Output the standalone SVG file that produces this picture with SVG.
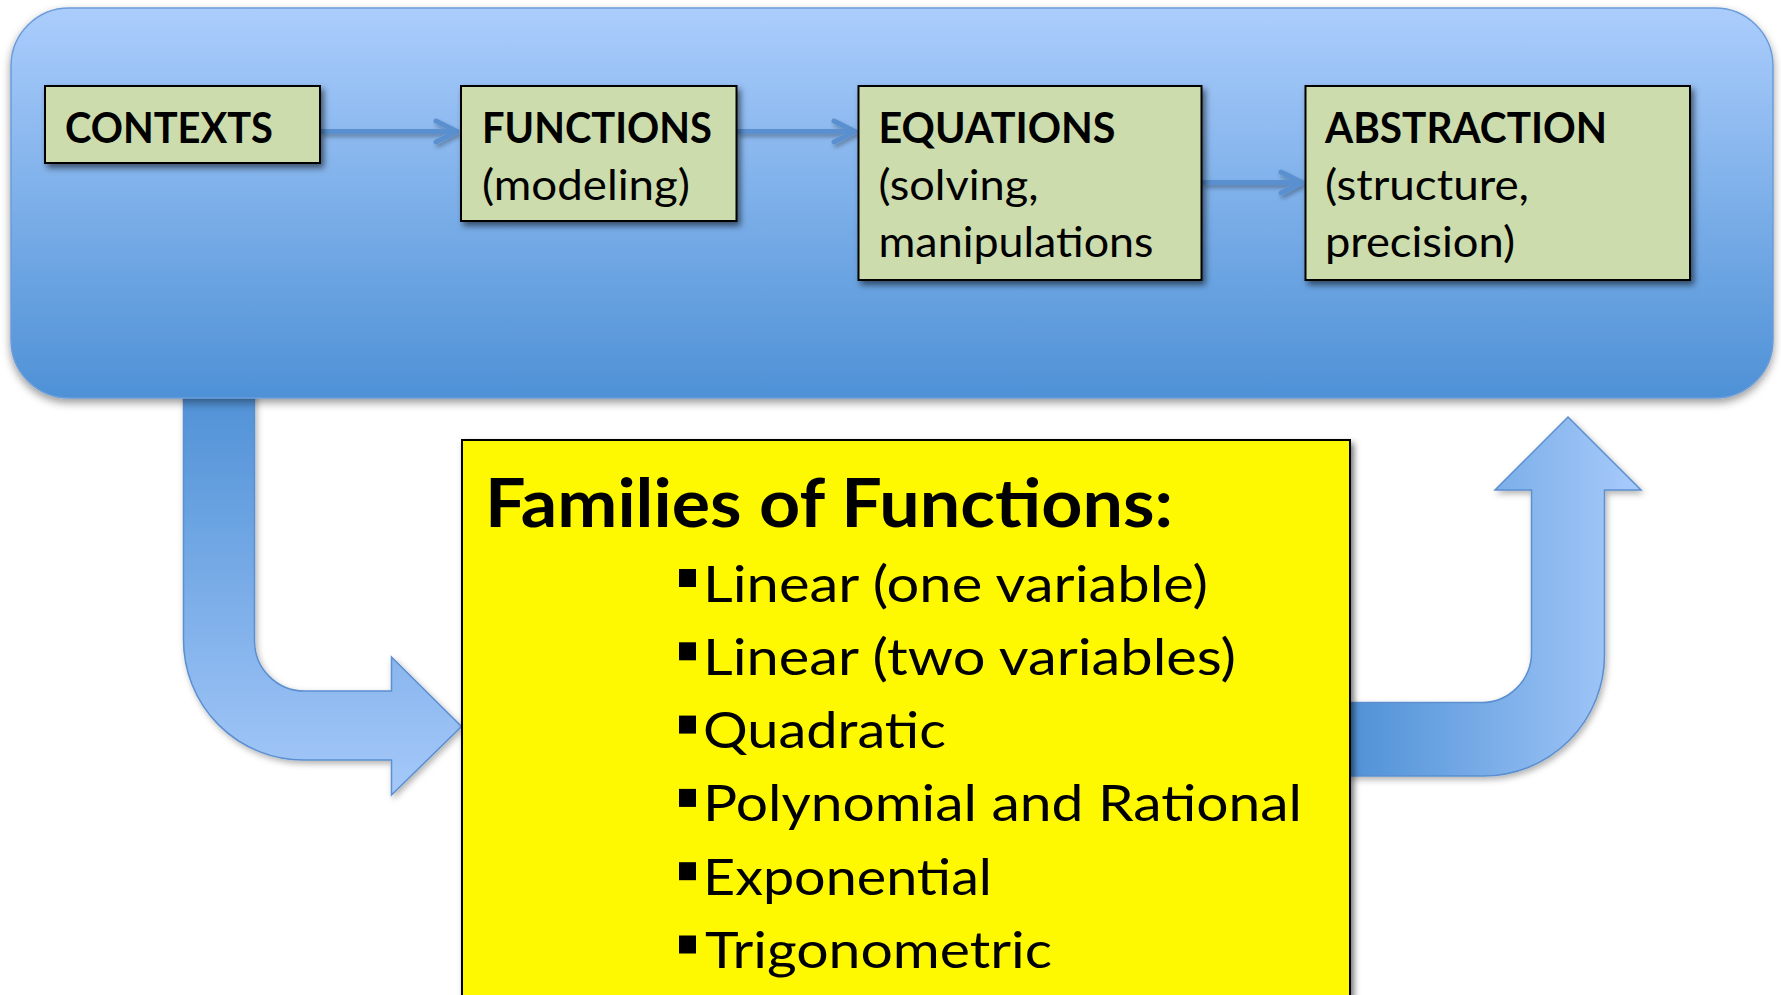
<svg xmlns="http://www.w3.org/2000/svg" width="1781" height="995" viewBox="0 0 1781 995">
<style>
  .t { font-family: Lato, "Open Sans", "Liberation Sans", sans-serif; fill: #000; }
  .b { font-weight: 700; }
  .box { fill: #cddcac; stroke: #000; stroke-width: 2; filter: url(#shBox); }
  .arr { stroke: #5b8fd0; stroke-width: 1.5; filter: url(#shArr); }
  .conn { stroke: #5a90cf; stroke-width: 5; fill: none; marker-end: url(#chev); }
  .bt { font-size: 42.5px; }
  .li { font-size: 51px; }
</style>
<defs>
  <linearGradient id="gBig" x1="0" y1="0" x2="0" y2="1">
    <stop offset="0" stop-color="#abcdfc"/>
    <stop offset="1" stop-color="#4e91d6"/>
  </linearGradient>
  <linearGradient id="gLeft" x1="0" y1="0" x2="0" y2="1">
    <stop offset="0" stop-color="#4f91d6"/>
    <stop offset="1" stop-color="#a6c9fa"/>
  </linearGradient>
  <linearGradient id="gRight" x1="0" y1="0" x2="1" y2="0">
    <stop offset="0" stop-color="#4f91d6"/>
    <stop offset="1" stop-color="#a8cbfb"/>
  </linearGradient>
  <filter id="shBig" x="-5%" y="-10%" width="110%" height="125%">
    <feDropShadow dx="0" dy="4" stdDeviation="4" flood-color="#000" flood-opacity="0.4"/>
  </filter>
  <filter id="shBox" x="-10%" y="-10%" width="125%" height="130%">
    <feDropShadow dx="3" dy="4" stdDeviation="3" flood-color="#000" flood-opacity="0.55"/>
  </filter>
  <filter id="shArr" x="-10%" y="-10%" width="125%" height="125%">
    <feDropShadow dx="2" dy="3" stdDeviation="3" flood-color="#000" flood-opacity="0.3"/>
  </filter>
  <filter id="shLine" filterUnits="userSpaceOnUse" x="0" y="0" width="1781" height="995">
    <feDropShadow dx="2" dy="3" stdDeviation="2" flood-color="#000" flood-opacity="0.3"/>
  </filter>
  <marker id="chev" markerUnits="userSpaceOnUse" markerWidth="40" markerHeight="40" viewBox="-30 -20 40 40" refX="0" refY="0" orient="auto" overflow="visible">
    <path d="M -21 -10.5 L 0 0 L -21 10.5" fill="none" stroke="#5a90cf" stroke-width="5" stroke-linecap="round" stroke-linejoin="round"/>
  </marker>
</defs>

<rect width="1781" height="995" fill="#ffffff"/>

<g id="arrow-left">
  <path class="arr" fill="url(#gLeft)" d="M 183.5 390 L 183.5 640 A 120 120 0 0 0 303.5 760 L 391.5 760 L 391.5 795 L 461.5 726.5 L 391.5 657 L 391.5 691 L 304.5 691 A 50 50 0 0 1 254.5 641 L 254.5 390 Z"/>
</g>

<g id="arrow-right">
  <path class="arr" fill="url(#gRight)" d="M 1348 702.5 L 1481.5 702.5 A 50 50 0 0 0 1531.5 652.5 L 1531.5 490 L 1495 490 L 1568 417 L 1641 490 L 1604.5 490 L 1604.5 655 A 121 121 0 0 1 1483.5 776 L 1348 776 Z"/>
</g>

<g id="panel">
  <rect x="11" y="8" width="1762" height="390" rx="58" ry="58" fill="url(#gBig)" stroke="#6a9cd9" stroke-width="1.5" filter="url(#shBig)"/>
</g>

<g id="connectors" filter="url(#shLine)">
  <path class="conn" d="M 320 131.5 L 457 131.5"/>
  <path class="conn" d="M 736.5 131.5 L 855 131.5"/>
  <path class="conn" d="M 1201.5 182.5 L 1302 182.5"/>
</g>

<g id="node-contexts">
  <rect class="box" x="45" y="86" width="275" height="77"/>
  <text class="t b bt" x="65" y="143" textLength="208" lengthAdjust="spacingAndGlyphs">CONTEXTS</text>
</g>

<g id="node-functions">
  <rect class="box" x="461" y="86" width="275.5" height="135"/>
  <text class="t b bt" x="482" y="143" textLength="230" lengthAdjust="spacingAndGlyphs">FUNCTIONS</text>
  <text class="t bt" x="482" y="200" textLength="208" lengthAdjust="spacingAndGlyphs">(modeling)</text>
</g>

<g id="node-equations">
  <rect class="box" x="858.5" y="86" width="343" height="194"/>
  <text class="t b bt" x="878.5" y="143" textLength="237" lengthAdjust="spacingAndGlyphs">EQUATIONS</text>
  <text class="t bt" x="878.5" y="200" textLength="160" lengthAdjust="spacingAndGlyphs">(solving,</text>
  <text class="t bt" x="878.5" y="257" textLength="275" lengthAdjust="spacingAndGlyphs">manipulations</text>
</g>

<g id="node-abstraction">
  <rect class="box" x="1305.5" y="86" width="384.5" height="194"/>
  <text class="t b bt" x="1325" y="143" textLength="282" lengthAdjust="spacingAndGlyphs">ABSTRACTION</text>
  <text class="t bt" x="1325" y="200" textLength="204" lengthAdjust="spacingAndGlyphs">(structure,</text>
  <text class="t bt" x="1325" y="257" textLength="190" lengthAdjust="spacingAndGlyphs">precision)</text>
</g>

<g id="node-families">
  <rect x="462" y="440" width="888" height="580" fill="#fef800" stroke="#000" stroke-width="2" filter="url(#shBox)"/>
  <text class="t b" x="485" y="526.5" font-size="67" textLength="688" lengthAdjust="spacingAndGlyphs">Families of Functions:</text>
  <g fill="#000">
    <rect x="679" y="569" width="17" height="18"/>
    <rect x="679" y="642.3" width="17" height="18"/>
    <rect x="679" y="715.6" width="17" height="18"/>
    <rect x="679" y="788.9" width="17" height="18"/>
    <rect x="679" y="862.2" width="17" height="18"/>
    <rect x="679" y="935.5" width="17" height="18"/>
  </g>
  <text class="t li" x="703" y="601.5" textLength="505" lengthAdjust="spacingAndGlyphs">Linear (one variable)</text>
  <text class="t li" x="703" y="674.8" textLength="533" lengthAdjust="spacingAndGlyphs">Linear (two variables)</text>
  <text class="t li" x="703" y="748.1" textLength="243" lengthAdjust="spacingAndGlyphs">Quadratic</text>
  <text class="t li" x="703" y="821.4" textLength="599" lengthAdjust="spacingAndGlyphs">Polynomial and Rational</text>
  <text class="t li" x="703" y="894.7" textLength="289" lengthAdjust="spacingAndGlyphs">Exponential</text>
  <text class="t li" x="705" y="968" textLength="347" lengthAdjust="spacingAndGlyphs">Trigonometric</text>
</g>
</svg>
